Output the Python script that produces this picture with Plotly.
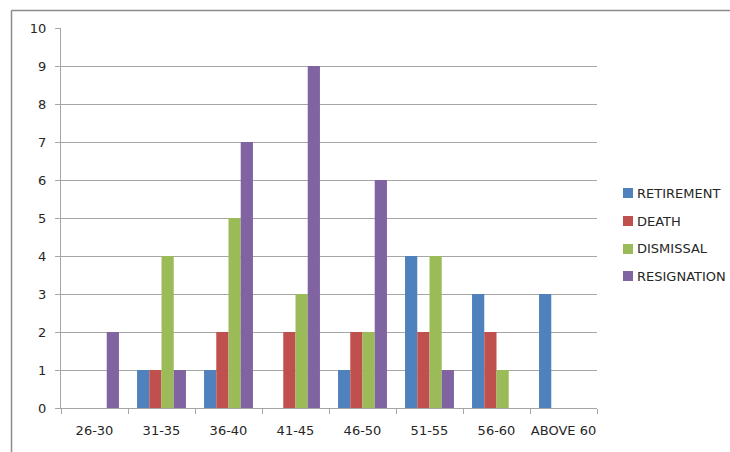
import plotly.graph_objects as go

# Age bands and number of separations by reason
age_bands = ["26-30", "31-35", "36-40", "41-45", "46-50", "51-55", "56-60", "ABOVE 60"]
retirement = [0, 1, 1, 0, 1, 4, 3, 3]
death = [0, 1, 2, 2, 2, 2, 2, 0]
dismissal = [0, 4, 5, 3, 2, 4, 1, 0]
resignation = [2, 1, 7, 9, 6, 1, 0, 0]

series_names = ["RETIREMENT", "DEATH", "DISMISSAL", "RESIGNATION"]
series_values = [retirement, death, dismissal, resignation]
series_colors = ["#4F81BD", "#C0504D", "#9BBB59", "#8064A2"]

W, H = 730, 452
L, R, T, B = 61, 133, 28, 44
PW, PH = W - L - R, H - T - B

def px_x(x):
    return (x - L) / PW

def px_y(y):
    return (H - B - y) / PH

fig = go.Figure()
for name, vals, col in zip(series_names, series_values, series_colors):
    fig.add_trace(go.Bar(x=age_bands, y=vals, name=name, marker=dict(color=col, line=dict(width=0))))

axis_col = "#A6A6A6"
font = dict(family="DejaVu Sans", size=13, color="#262626")

fig.update_layout(
    width=W, height=H,
    margin=dict(l=L, r=R, t=T, b=B, pad=0, autoexpand=False),
    paper_bgcolor="white", plot_bgcolor="white",
    barmode="group", bargap=0.27, bargroupgap=0,
    showlegend=False,
    font=font,
    xaxis=dict(
        range=[-0.5, 7.5], showgrid=False, showline=True, linecolor=axis_col, linewidth=1,
        ticks="outside", tickson="boundaries", ticklen=5, tickcolor=axis_col,
        ticklabelstandoff=10, tickfont=font, tickangle=0, automargin=False, fixedrange=True,
    ),
    yaxis=dict(
        range=[0, 10], dtick=1, showgrid=True, gridcolor=axis_col, gridwidth=1,
        showline=True, linecolor=axis_col, linewidth=1,
        ticks="outside", ticklen=5, tickcolor=axis_col, ticklabelstandoff=6,
        tickfont=font, zeroline=False, automargin=False, fixedrange=True,
    ),
)

# Outer chart frame (top and left edges)
frame_col = "#8C8C8C"
fig.add_shape(type="line", xref="paper", yref="paper",
              x0=px_x(11.5), x1=px_x(W + 20), y0=px_y(10.5), y1=px_y(10.5),
              line=dict(color=frame_col, width=1.5))
fig.add_shape(type="line", xref="paper", yref="paper",
              x0=px_x(11.5), x1=px_x(11.5), y0=px_y(10.5), y1=px_y(H + 20),
              line=dict(color=frame_col, width=1.5))

# Legend: colour squares with series names
legend_rows = [193, 221, 249, 276]
for name, col, yc in zip(series_names, series_colors, legend_rows):
    fig.add_shape(type="rect", xref="paper", yref="paper",
                  x0=px_x(623), x1=px_x(633), y0=px_y(yc - 5), y1=px_y(yc + 5),
                  fillcolor=col, line=dict(width=0))
    fig.add_annotation(x=px_x(635), y=px_y(yc), xref="paper", yref="paper",
                       text=name, showarrow=False, xanchor="left", yanchor="middle",
                       font=font)

fig.write_html("out.html")
